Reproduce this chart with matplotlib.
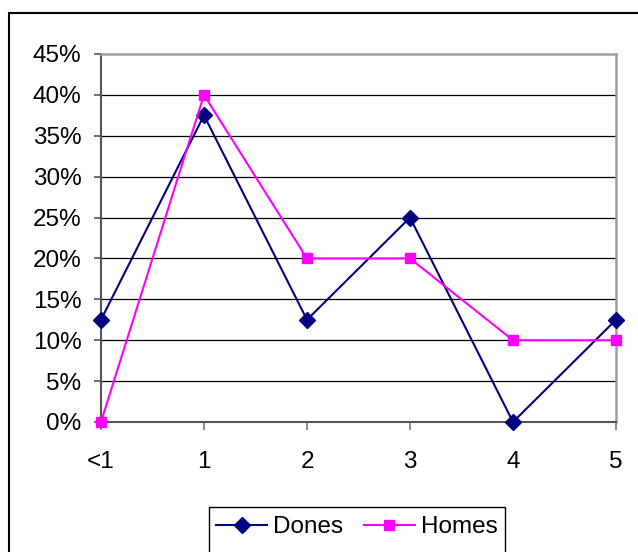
import matplotlib
matplotlib.use("Agg")
import matplotlib.pyplot as plt
from matplotlib.patches import Rectangle

categories = ["<1", "1", "2", "3", "4", "5"]
dones = [12.5, 37.5, 12.5, 25.0, 0.0, 12.5]
homes = [0.0, 40.0, 20.0, 20.0, 10.0, 10.0]
yticks = [0, 5, 10, 15, 20, 25, 30, 35, 40, 45]
ytick_labels = [f"{v}%" for v in yticks]

plt.rcParams["font.family"] = ["Liberation Sans", "DejaVu Sans"]
FS = 17.5

W, H = 638, 552
fig = plt.figure(figsize=(W / 100, H / 100), dpi=100)

# outer chart frame (cut off at right/bottom)
fig.patches.append(Rectangle((8.5 / W, -0.2), 2.0, 1 - 12.5 / H + 0.2,
                             transform=fig.transFigure, fill=False,
                             edgecolor="black", linewidth=1.5, clip_on=False))

ax = fig.add_axes([101 / W, (H - 422) / H, 515 / W, 368 / H])
x = list(range(len(categories)))

for v in yticks[1:-1]:
    ax.axhline(v, color="black", linewidth=0.9, zorder=1)

ax.plot(x, dones, color="#000080", linewidth=1.5, marker="D", markersize=8,
        label="Dones", zorder=3, clip_on=False)
ax.plot(x, homes, color="#FF00FF", linewidth=1.5, marker="s", markersize=7,
        label="Homes", zorder=4, clip_on=False)

ax.set_xlim(0, len(categories) - 1)
ax.set_ylim(0, 45)
ax.set_xticks(x)
ax.set_xticklabels(categories)
ax.set_yticks(yticks)
ax.set_yticklabels(ytick_labels)
ax.tick_params(axis="y", direction="out", length=5, width=1.2, color="#555555",
               pad=9, labelsize=FS)
ax.tick_params(axis="x", direction="out", length=6, width=1.2, color="#777777",
               pad=15, labelsize=FS)

for side in ["left", "bottom"]:
    ax.spines[side].set_color("#555555")
    ax.spines[side].set_linewidth(1.5)
for side in ["top", "right"]:
    ax.spines[side].set_color("#a0a0a0")
    ax.spines[side].set_linewidth(1.8)

# legend box (bottom cut off)
fig.patches.append(Rectangle((208.5 / W, -0.2), (505 - 208.5) / W, 1 - 506.5 / H + 0.2,
                             transform=fig.transFigure, fill=False,
                             edgecolor="black", linewidth=1.0, clip_on=False))
handles, labels = ax.get_legend_handles_labels()
leg = fig.legend(handles, labels, loc="center left",
                 bbox_to_anchor=(216 / W, 1 - 527 / H), ncol=2, frameon=False,
                 fontsize=FS, handlelength=2.1, handletextpad=0.25,
                 columnspacing=0.85, borderpad=0.0, borderaxespad=0.0)

fig.savefig("out.png", dpi=100)
